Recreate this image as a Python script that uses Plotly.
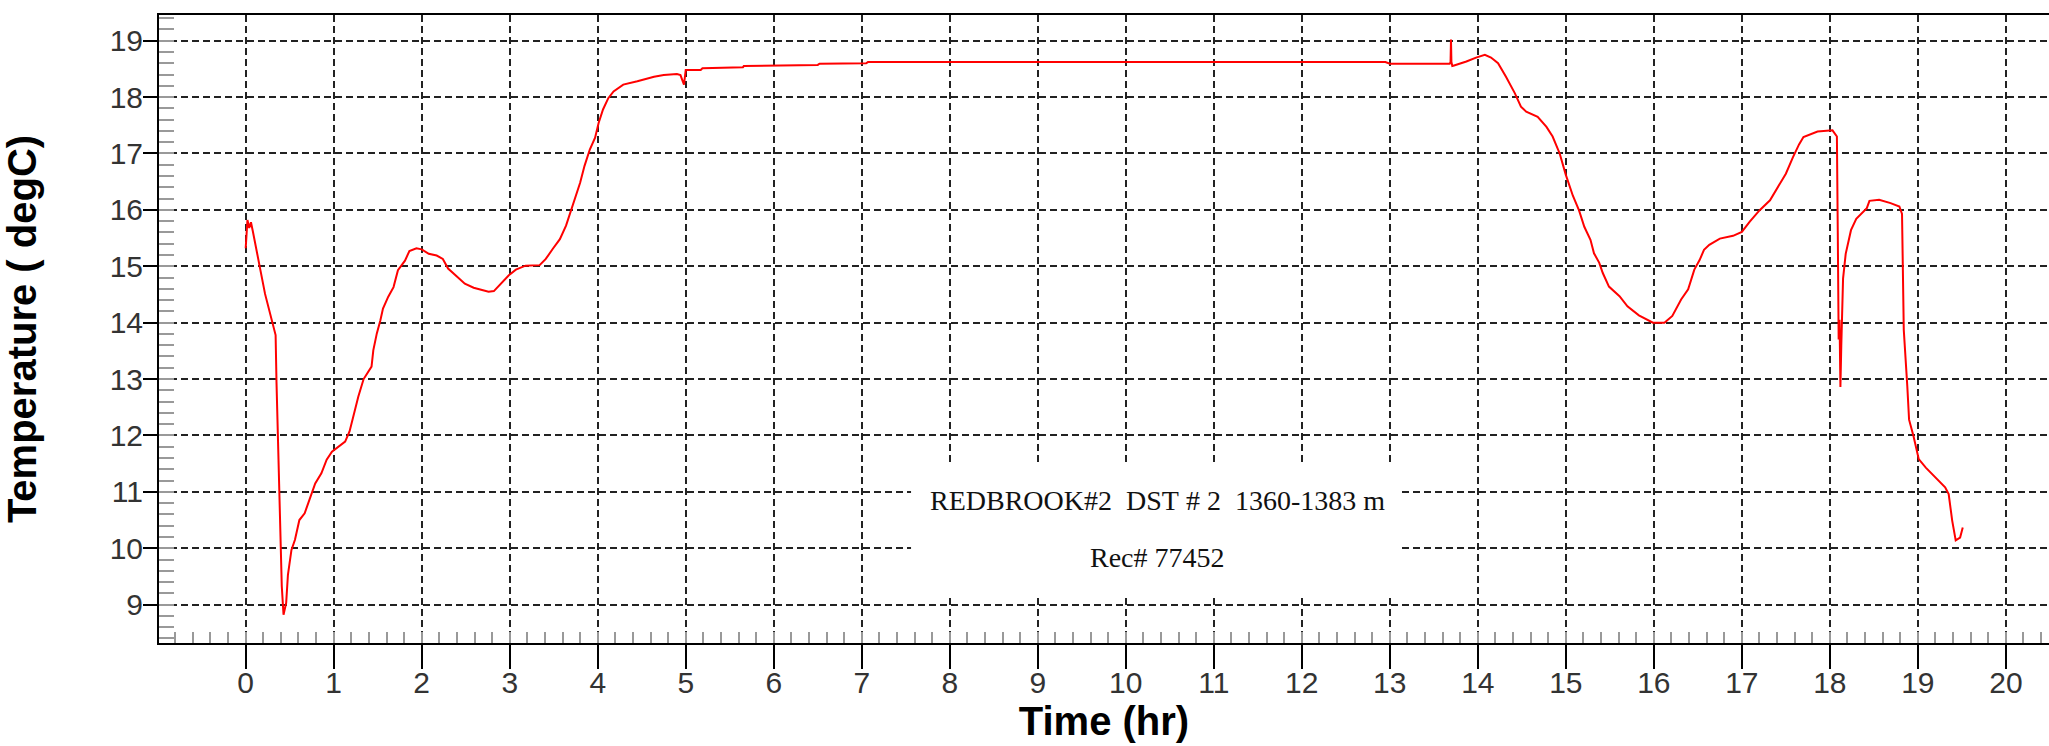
import plotly.graph_objects as go

time_hr = [0.00, 0.02, 0.04, 0.06, 0.08, 0.12, 0.16, 0.22, 0.26, 0.31, 0.34, 0.35, 0.37, 0.39, 0.41,
           0.43, 0.46, 0.48, 0.52, 0.56, 0.61, 0.67, 0.73, 0.79, 0.86, 0.92, 0.98, 1.05, 1.13, 1.18,
           1.24, 1.28, 1.34, 1.43, 1.45, 1.49, 1.53, 1.56, 1.62, 1.68, 1.73, 1.81, 1.86, 1.94, 2.00,
           2.08, 2.17, 2.24, 2.30, 2.40, 2.49, 2.59, 2.68, 2.76, 2.82, 2.92, 2.99, 3.07, 3.18, 3.34,
           3.41, 3.49, 3.57, 3.64, 3.68, 3.74, 3.80, 3.85, 3.91, 3.97, 4.01, 4.06, 4.12, 4.18, 4.29,
           4.45, 4.64, 4.75, 4.90, 4.94, 4.98, 5.00, 5.17, 5.19, 5.65, 5.66, 6.50, 6.52, 7.05, 7.07,
           12.95, 13.00, 13.68, 13.69, 13.695, 13.70, 13.71, 13.73, 13.87, 13.98, 14.08, 14.15, 14.23,
           14.32, 14.42, 14.49, 14.55, 14.68, 14.78, 14.85, 14.93, 15.00, 15.08, 15.15, 15.21, 15.28,
           15.32, 15.38, 15.42, 15.49, 15.61, 15.70, 15.83, 15.99, 16.12, 16.21, 16.31, 16.39, 16.46,
           16.52, 16.57, 16.63, 16.75, 16.90, 17.00, 17.09, 17.20, 17.32, 17.43, 17.50, 17.58, 17.65,
           17.70, 17.86, 18.03, 18.08, 18.09, 18.10, 18.11, 18.12, 18.13, 18.15, 18.18, 18.24, 18.30,
           18.39, 18.42, 18.45, 18.56, 18.69, 18.79, 18.82, 18.83, 18.84, 18.88, 18.90, 18.95, 19.01,
           19.09, 19.20, 19.31, 19.35, 19.39, 19.43, 19.48, 19.51]

temperature_degC = [15.32, 15.82, 15.68, 15.78, 15.63, 15.34, 14.99, 14.51, 14.28, 13.98, 13.78, 12.95, 11.68, 10.36, 9.33,
                    8.82, 9.03, 9.53, 9.97, 10.15, 10.50, 10.62, 10.89, 11.15, 11.33, 11.57, 11.71, 11.80, 11.89, 12.07,
                    12.45, 12.69, 13.00, 13.22, 13.51, 13.81, 14.04, 14.25, 14.46, 14.63, 14.93, 15.10, 15.27, 15.32, 15.30,
                    15.22, 15.19, 15.13, 14.96, 14.81, 14.69, 14.62, 14.58, 14.55, 14.56, 14.72, 14.84, 14.94, 15.01, 15.02,
                    15.13, 15.31, 15.48, 15.72, 15.92, 16.19, 16.48, 16.78, 17.07, 17.28, 17.54, 17.78, 17.98, 18.10, 18.22,
                    18.28, 18.36, 18.39, 18.41, 18.39, 18.22, 18.48, 18.48, 18.51, 18.53, 18.55, 18.57, 18.59, 18.60, 18.62,
                    18.62, 18.59, 18.59, 18.62, 19.02, 18.62, 18.55, 18.56, 18.63, 18.70, 18.75, 18.70, 18.60,
                    18.36, 18.07, 17.83, 17.74, 17.65, 17.47, 17.30, 17.00, 16.62, 16.25, 15.99, 15.70, 15.47,
                    15.23, 15.06, 14.88, 14.64, 14.47, 14.29, 14.13, 14.00, 14.00, 14.12, 14.41, 14.59, 14.94,
                    15.11, 15.29, 15.38, 15.49, 15.54, 15.61, 15.79, 15.99, 16.17, 16.46, 16.64, 16.93, 17.16,
                    17.29, 17.39, 17.41, 17.30, 15.60, 13.70, 14.05, 12.86, 13.60, 14.78, 15.22, 15.64, 15.84,
                    15.99, 16.03, 16.16, 16.18, 16.12, 16.06, 15.93, 14.87, 13.87, 12.87, 12.28, 11.99, 11.58,
                    11.43, 11.25, 11.08, 10.96, 10.49, 10.14, 10.19, 10.37]

x_ticks = list(range(0, 21))
y_ticks = list(range(9, 20))
label_line1 = "REDBROOK#2\u00a0\u00a0DST\u00a0#\u00a02\u00a0\u00a01360-1383\u00a0m"
label_line2 = "Rec#\u00a077452"

tick_font = dict(family="Liberation Sans, Arial, sans-serif", size=30, color="#333333")
title_font = dict(family="Liberation Sans, Arial, sans-serif", size=40, color="black", weight="bold")
note_font = dict(family="Liberation Serif, Times New Roman, serif", size=28, color="#111111")

fig = go.Figure()
fig.add_trace(go.Scatter(x=time_hr, y=temperature_degC, mode="lines",
                         line=dict(color="#ff0000", width=2), showlegend=False,
                         hoverinfo="x+y"))

fig.add_shape(type="rect", xref="x", yref="y", x0=7.56, x1=13.13, y0=9.13, y1=11.48,
              fillcolor="white", line=dict(width=0), layer="between")

fig.add_annotation(x=10.36, y=10.85, xref="x", yref="y", text=label_line1, showarrow=False,
                   font=note_font, yanchor="middle", xanchor="center")
fig.add_annotation(x=10.36, y=9.84, xref="x", yref="y", text=label_line2, showarrow=False,
                   font=note_font, yanchor="middle", xanchor="center")

fig.update_xaxes(
    range=[-0.985, 20.49], tickmode="array", tickvals=x_ticks, ticktext=[str(v) for v in x_ticks],
    ticks="outside", ticklen=24, tickwidth=2, tickcolor="black", tickfont=tick_font,
    ticklabelstandoff=-12,
    showline=True, linecolor="black", linewidth=2, mirror=True,
    showgrid=True, gridcolor="#222222", gridwidth=2, griddash="7px,4px", zeroline=False,
    minor=dict(dtick=0.2, tick0=0, ticks="inside", ticklen=11, tickwidth=2, tickcolor="#999999", showgrid=False),
    title=dict(text="Time (hr)", font=title_font, standoff=4),
)
fig.update_yaxes(
    range=[8.32, 19.455], tickmode="array", tickvals=y_ticks, ticktext=[str(v) for v in y_ticks],
    ticks="outside", ticklen=14, tickwidth=2, tickcolor="black", tickfont=tick_font,
    ticklabelstandoff=-6,
    showline=True, linecolor="black", linewidth=2, mirror=False,
    showgrid=True, gridcolor="#222222", gridwidth=2, griddash="7px,4px", zeroline=False,
    minor=dict(dtick=0.2, tick0=0, ticks="inside", ticklen=15, tickwidth=2, tickcolor="#999999", showgrid=False),
    title=dict(text="Temperature ( degC)", font=title_font, standoff=72),
)

fig.update_layout(
    width=2049, height=746,
    margin=dict(l=159, r=0, t=15, b=103, autoexpand=False),
    paper_bgcolor="white", plot_bgcolor="white",
)

fig.write_html("out.html")
